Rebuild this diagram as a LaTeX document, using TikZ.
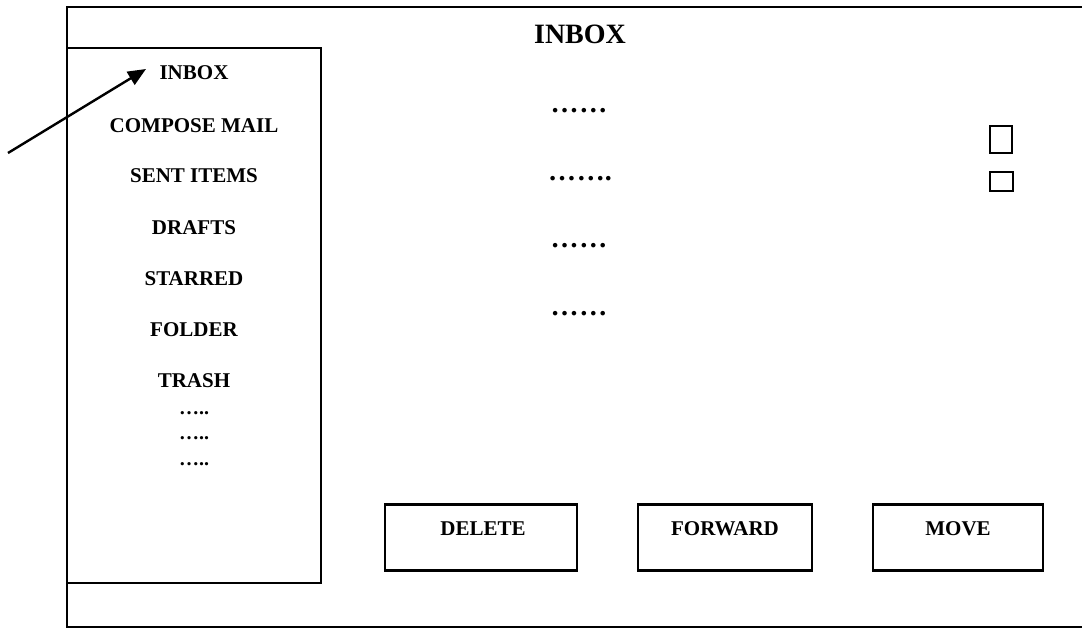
\documentclass[tikz,border=0pt]{standalone}
\usepackage{fontspec}
\setmainfont{Liberation Serif}
\usetikzlibrary{arrows.meta}
\tikzset{
  frame/.style={line width=2.2pt, draw=black},
  menu/.style={font=\fontsize{21}{24}\selectfont\bfseries, anchor=base, inner sep=0pt},
  headline/.style={font=\fontsize{28}{32}\selectfont\bfseries, anchor=base, inner sep=0pt},
  sdots/.style={font=\fontsize{20}{24}\selectfont\bfseries, anchor=base, inner sep=0pt},
  mdots/.style={font=\fontsize{28}{30}\selectfont\bfseries, anchor=base, inner sep=0pt},
  button/.style={draw, line width=2.2pt, minimum width=#1, minimum height=66pt, inner sep=0pt},
  checkbox/.style={draw, line width=2.2pt, inner sep=0pt},
  pointer/.style={line width=2.4pt, -{Triangle[length=18pt,width=15pt]}}
}
\begin{document}
\begin{tikzpicture}[x=1pt,y=-1pt]
\useasboundingbox (0,0) rectangle (1082,628);
% outer window frame (right side beyond the picture)
\draw[frame] (1090,7) -- (67,7) -- (67,627) -- (1090,627);
% sidebar
\node[draw, line width=2.2pt, inner sep=0pt, minimum width=254pt, minimum height=535pt] (side) at (194,315.5) {};
% title
\node[headline] (title) at (580,43.5) {INBOX};
% sidebar items
\node[menu] (inbox) at (194,80) {INBOX};
\node[menu] (compose) at (194,133) {COMPOSE MAIL};
\node[menu] (sent) at (194,183) {SENT ITEMS};
\node[menu] (drafts) at (194,235) {DRAFTS};
\node[menu] (starred) at (194,286) {STARRED};
\node[menu] (folder) at (194,337) {FOLDER};
\node[menu] (trash) at (194,388) {TRASH};
\node[sdots] (sd1) at (194,414) {…..};
\node[sdots] (sd2) at (194,439) {…..};
\node[sdots] (sd3) at (194,465) {…..};
% message placeholders
\node[mdots] (m1) at (579,112.5) {…\kern1pt…};
\node[mdots] (m2) at (580,180.5) {…\kern1pt….};
\node[mdots] (m3) at (579,247.5) {…\kern1pt…};
\node[mdots] (m4) at (579,315.5) {…\kern1pt…};
% checkboxes
\node[checkbox, minimum width=22pt, minimum height=27pt] (cb1) at (1001,139.5) {};
\node[checkbox, minimum width=23pt, minimum height=19pt] (cb2) at (1001.5,181.5) {};
% buttons
\node[button=192pt] (delete) at (481,537.5) {};
\node[button=174pt] (forward) at (725,537.5) {};
\node[button=170pt] (move) at (958,537.5) {};
\node[menu] (tdelete) at (483,535) {DELETE};
\node[menu] (tforward) at (725,535) {FORWARD};
\node[menu] (tmove) at (958,535) {MOVE};
% pointer arrow
\coordinate (tail) at (8,153);
\coordinate (tip) at (146,69);
\draw[pointer] (tail) -- (tip);
\end{tikzpicture}
\end{document}
